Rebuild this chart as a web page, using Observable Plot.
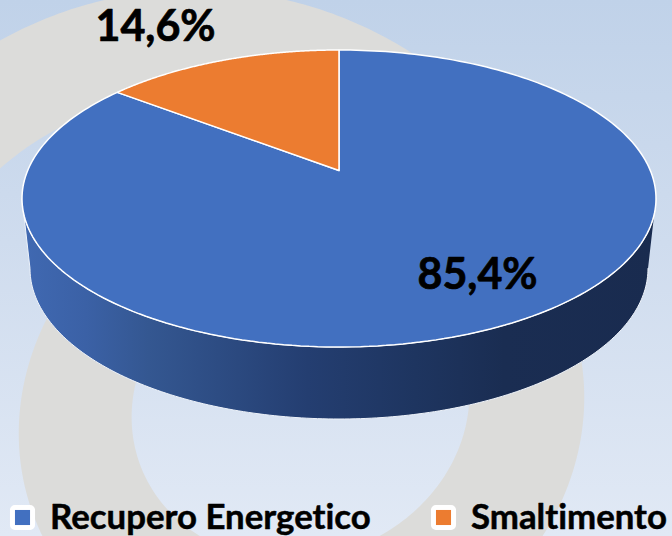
<!DOCTYPE html>
<html><head><meta charset="utf-8">
<style>
html,body{margin:0;padding:0;width:672px;height:536px;overflow:hidden;background:linear-gradient(180deg,#c0d2e9 0%,#cfdcee 45%,#e1e9f5 100%);}
svg{display:block;}
svg text{font-variant-ligatures:none;font-feature-settings:"liga" 0,"clig" 0;}
</style>
<script src="https://cdn.jsdelivr.net/npm/d3@7"></script>
<script src="https://cdn.jsdelivr.net/npm/@observablehq/plot@0.6"></script>
</head><body>
<script>
// Data
const categories = ["Recupero Energetico", "Smaltimento"];
const shares = [85.4, 14.6];
const colors = ["#4270c0", "#ec7c30"];

// Layout of the drawing (pixels of the 672x536 picture)
const W = 672, H = 536;
const top3d = {cx: 338.5, cy: 198, rx: 317, ry: 148.5, apexShift: 0.189};
const base3d = {cx: 338.5, cy: 268, rx: 309, ry: 150.5};
const labelPos = [[477, 275], [155, 27]];
const legendPos = [[22, 49.5], [443, 470.5]];
const legendY = 517;

// Perspective: a circle seen obliquely; its centre projects above the ellipse centre
function project(turn) {
  const a = turn * 2 * Math.PI, u = Math.sin(a), v = Math.cos(a), c = top3d.apexShift;
  const d = 1 + c * v;
  return {x: top3d.cx + top3d.rx * u * Math.sqrt(1 - c * c) / d,
          y: top3d.cy - top3d.ry * (v + c) / d};
}
const apex = {x: top3d.cx, y: top3d.cy - top3d.ry * top3d.apexShift};

// Slices: blue starts at 12 o'clock clockwise, orange ends at 12 o'clock
const total = d3.sum(shares);
let cum = 0;
const slicePts = [];
categories.forEach((name, i) => {
  const t0 = cum / total, t1 = (cum + shares[i]) / total; cum += shares[i];
  slicePts.push({...apex, name});
  d3.range(0, 241).forEach(k => {
    slicePts.push({...project(t0 + (t1 - t0) * k / 240), name});
  });
  slicePts.push({...apex, name});
});

// Side wall: lower half of top ellipse + lower half of base ellipse
const ell = (e, a) => ({x: e.cx + e.rx * Math.cos(a), y: e.cy + e.ry * Math.sin(a)});
const sidePts = [
  ...d3.range(0, 181).map(k => ell(top3d, k * Math.PI / 180)),
  ...d3.range(180, -1, -1).map(k => ell(base3d, k * Math.PI / 180))
];

// Grey backdrop bands (rotated ellipses)
const rim = (e, deg) => {
  const a = deg * Math.PI / 180, t = (e.tilt || 0) * Math.PI / 180;
  const p = e.a * Math.cos(a), q = e.b * Math.sin(a);
  return {x: e.cx + p * Math.cos(t) + q * Math.sin(t), y: e.cy - p * Math.sin(t) + q * Math.cos(t)};
};
const band = (outer, inner, a0, a1) => {
  const n = 240, angles = d3.range(0, n + 1).map(k => a0 + (a1 - a0) * k / n);
  return [...angles.map(a => rim(outer, a)), ...angles.slice().reverse().map(a => rim(inner, a))];
};
const upperBand = band({cx: 195, cy: 389, a: 400, b: 400}, {cx: 195, cy: 389, a: 295, b: 295}, 170, 320);
const lowerBand = band({cx: 301, cy: 415, a: 286, b: 257, tilt: 20}, {cx: 300, cy: 405, a: 171, b: 152, tilt: 20}, 0, 360);

const defs = () => {
  const d = d3.create("svg:defs");
  const g = d.append("linearGradient").attr("id", "sideGrad").attr("x1", 0).attr("x2", 1).attr("y1", 0).attr("y2", 0);
  [[0, "#4069b2"], [0.1, "#3b61a6"], [0.2, "#345791"], [0.45, "#243e71"], [0.62, "#1e3560"], [0.76, "#1a2d52"], [1, "#192b4f"]]
    .forEach(([o, c]) => g.append("stop").attr("offset", o).attr("stop-color", c));
  return d.node();
};

const labels = shares.map((v, i) => ({
  text: v.toFixed(1).replace(".", ",") + "%", x: labelPos[i][0], y: labelPos[i][1]
}));
const legend = categories.map((name, i) => ({name, bx: legendPos[i][0], tx: legendPos[i][1]}));

const font = "Lato, Carlito, Calibri, sans-serif";

const plot = Plot.plot({
  width: W, height: H,
  margin: 0,
  style: {background: "transparent", overflow: "hidden"},
  x: {domain: [0, W], range: [0, W], axis: null},
  y: {domain: [0, H], range: [0, H], axis: null},
  color: {domain: categories, range: colors},
  marks: [
    defs,
    Plot.line(upperBand, {x: "x", y: "y", fill: "#dcdcda", stroke: "none"}),
    Plot.line(lowerBand, {x: "x", y: "y", fill: "#dcdcda", stroke: "none"}),
    Plot.line(sidePts, {x: "x", y: "y", fill: "url(#sideGrad)", stroke: "#eef3fa", strokeWidth: 1}),
    Plot.line(slicePts, {x: "x", y: "y", z: "name", fill: "name", stroke: "#ffffff", strokeWidth: 1.5, strokeLinejoin: "miter"}),
    Plot.text(labels, {x: "x", y: "y", text: "text", fill: "#000", stroke: "#000", strokeWidth: 0.7, fontSize: 43, fontWeight: 700, fontFamily: font}),
    Plot.dot(legend, {x: "bx", y: () => legendY, fill: "name", symbol: "square", r: 8.5, stroke: "#fff", strokeWidth: 10, strokeLinejoin: "round", paintOrder: "stroke"}),
    Plot.text(legend, {x: "tx", y: () => legendY, text: "name", textAnchor: "start", fill: "#000", stroke: "#000", strokeWidth: 0.5, fontSize: 34.8, fontWeight: 700, fontFamily: font})
  ]
});
document.body.appendChild(plot);
</script>
</body></html>
